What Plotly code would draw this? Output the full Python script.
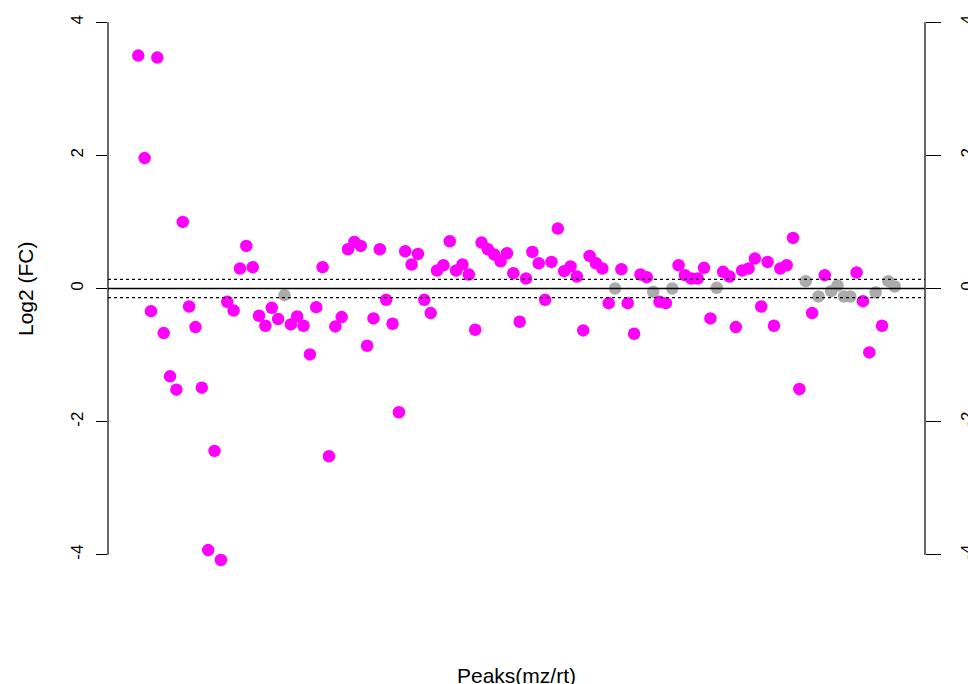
import plotly.graph_objects as go
import math

# Log2 fold change per peak (index order)
log2fc = [
    3.50, 1.96, -0.34, 3.47, -0.67, -1.32, -1.52, 1.00, -0.27, -0.58,
    -1.49, -3.93, -2.44, -4.08, -0.20, -0.33, 0.30, 0.64, 0.32, -0.41,
    -0.56, -0.29, -0.46, -0.10, -0.54, -0.42, -0.56, -0.99, -0.28, 0.32,
    -2.52, -0.57, -0.43, 0.59, 0.70, 0.64, -0.86, -0.45, 0.59, -0.17,
    -0.53, -1.86, 0.56, 0.36, 0.52, -0.17, -0.37, 0.27, 0.35, 0.71,
    0.27, 0.36, 0.21, -0.62, 0.69, 0.59, 0.51, 0.41, 0.53, 0.23,
    -0.50, 0.15, 0.55, 0.38, -0.17, 0.40, 0.90, 0.26, 0.33, 0.18,
    -0.63, 0.49, 0.38, 0.30, -0.22, 0.00, 0.29, -0.22, -0.68, 0.21,
    0.17, -0.05, -0.20, -0.22, 0.00, 0.35, 0.20, 0.15, 0.15, 0.31,
    -0.45, 0.01, 0.25, 0.18, -0.58, 0.27, 0.30, 0.45, -0.27, 0.40,
    -0.56, 0.30, 0.35, 0.76, -1.51, 0.11, -0.37, -0.12, 0.20, -0.04,
    0.045, -0.12, -0.12, 0.24, -0.19, -0.96, -0.06, -0.56, 0.11, 0.03,
]
peaks = list(range(1, len(log2fc) + 1))
y_ticks = [-4, -2, 0, 2, 4]
y_tick_labels = ["-4", "-2", "0", "2", "4"]
fc_threshold = math.log2(1.1)

SIG_COLOR = "#FF00FF"
NS_COLOR = "#ABABAB"
colors = [SIG_COLOR if abs(v) > fc_threshold else NS_COLOR for v in log2fc]

n = len(peaks)
ext = 0.04 * (n - 1)
xr = [1 - ext, n + ext]
yr = [-4 - 0.32, 4 + 0.32]

fig = go.Figure()
fig.add_trace(go.Scatter(
    x=peaks, y=log2fc, mode="markers",
    marker=dict(color=colors, size=12.5, line=dict(width=0)),
    showlegend=False, hoverinfo="skip",
))
# invisible trace for right axis
fig.add_trace(go.Scatter(x=[peaks[0]], y=[0], yaxis="y2", mode="markers",
                         marker=dict(opacity=0), showlegend=False, hoverinfo="skip"))

font = "Liberation Sans, Arial, Helvetica, sans-serif"
tickfont = dict(family=font, size=17, color="black")

fig.update_layout(
    width=968, height=684,
    margin=dict(l=108, r=43, t=1, b=108, pad=0),
    paper_bgcolor="white", plot_bgcolor="white",
    xaxis=dict(range=xr, showgrid=False, zeroline=False, showline=False,
               showticklabels=False, ticks="", automargin=False),
    yaxis=dict(range=yr, showgrid=False, zeroline=False, showline=False,
               tickvals=y_ticks, ticktext=y_tick_labels, ticks="outside",
               ticklen=11, tickwidth=1, tickcolor="black", tickangle=-90,
               tickfont=tickfont, ticklabelstandoff=6, automargin=False),
    yaxis2=dict(range=yr, overlaying="y", side="right", showgrid=False,
                zeroline=False, showline=False,
                tickvals=y_ticks, ticktext=y_tick_labels, ticks="outside",
                ticklen=15, tickwidth=1, tickcolor="black", tickangle=-90,
                tickfont=tickfont, ticklabelstandoff=12, automargin=False),
    showlegend=False,
)

# axis lines (R style, only between extreme ticks)
for xp in (0, 1):
    fig.add_shape(type="line", xref="paper", yref="y", x0=xp, x1=xp,
                  y0=y_ticks[0], y1=y_ticks[-1], line=dict(color="black", width=1.2))
# zero line
fig.add_shape(type="line", xref="paper", yref="y", x0=0, x1=1, y0=0, y1=0,
              line=dict(color="black", width=1.5))
for t in (fc_threshold, -fc_threshold):
    fig.add_shape(type="line", xref="paper", yref="y", x0=0, x1=1, y0=t, y1=t,
                  line=dict(color="black", width=1.4, dash="3px,3px"))

fig.add_annotation(text="Log2 (FC)", xref="paper", yref="paper",
                   x=(25 - 108) / 817, y=(576 - 289) / 575, xanchor="center", yanchor="middle",
                   textangle=-90, showarrow=False,
                   font=dict(family=font, size=21, color="black"))
fig.add_annotation(text="Peaks(mz/rt)", xref="paper", yref="paper",
                   x=0.5, y=(576 - 675) / 575, xanchor="center", yanchor="middle",
                   showarrow=False, font=dict(family=font, size=21, color="black"))

fig.write_html("out.html")
